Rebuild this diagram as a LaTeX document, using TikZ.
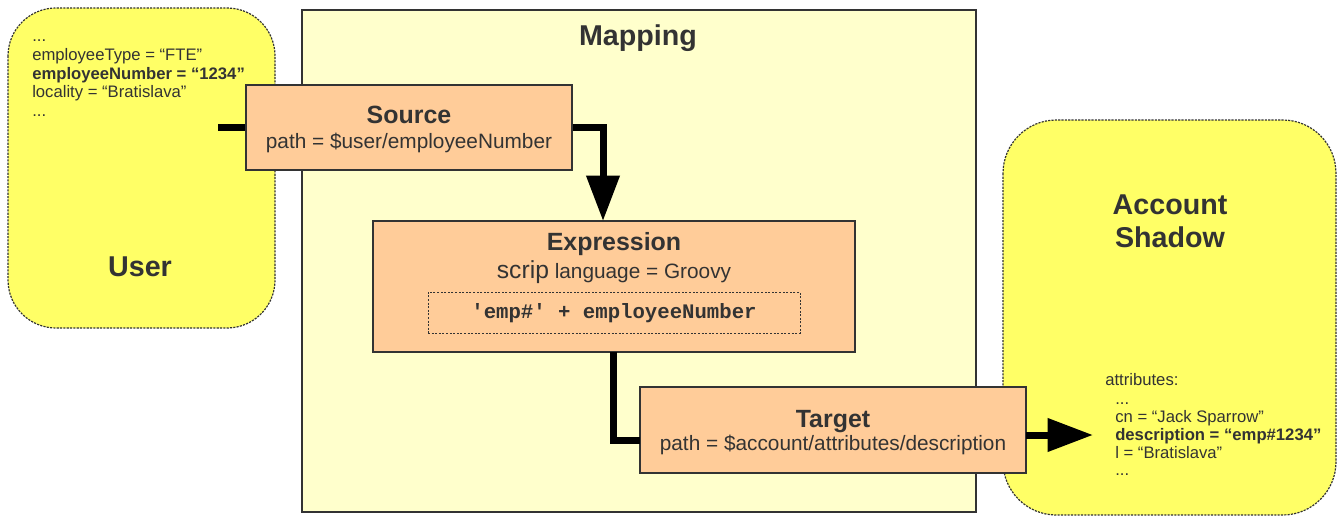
\documentclass[tikz,border=0pt]{standalone}
\usepackage{fontspec}
\setmainfont{Liberation Sans}
\setmonofont{Liberation Mono}
\usetikzlibrary{arrows.meta,calc}
\definecolor{useryel}{HTML}{FFFF66}
\definecolor{mapyel}{HTML}{FFFFCC}
\definecolor{peach}{HTML}{FFCC99}
\definecolor{ink}{HTML}{333333}
\begin{document}
\begin{tikzpicture}[x=0.75pt,y=-0.75pt,
  cloud/.style={draw=ink,fill=useryel,line width=0.9pt,dash pattern=on 1.6pt off 0.9pt},
  peachbox/.style={draw=ink,fill=peach,line width=1.1pt},
  ttl/.style={text=ink,font=\bfseries\fontsize{18.7pt}{22pt}\selectfont,anchor=base,inner sep=0pt},
  sub/.style={text=ink,font=\fontsize{15.6pt}{18pt}\selectfont,anchor=base,inner sep=0pt},
  small/.style={text=ink,font=\fontsize{12.5pt}{14pt}\selectfont,anchor=base west,inner sep=0pt},
  smallb/.style={small,font=\bfseries\fontsize{12.5pt}{14pt}\selectfont},
  big/.style={text=ink,font=\bfseries\fontsize{21.5pt}{25pt}\selectfont,anchor=base,inner sep=0pt},
  conn/.style={line width=5.25pt,draw=black,line join=miter},
  tip/.style={-{Triangle[length=34pt,width=24pt]}}
]
\useasboundingbox (0,0) rectangle (1341,517);
\fill[white] (0,0) rectangle (1341,517);

% user and account shadow
\draw[cloud,rounded corners=36pt] (8,8) rectangle (275,328);
\draw[cloud,rounded corners=40pt] (1003,120) rectangle (1336,515);

% mapping
\draw[ink,fill=mapyel,line width=0.8pt] (302,10) rectangle (976,512);
\node[big] (maptitle) at (638,46) {Mapping};

% user texts
\node[small]  (u1) at (32,42) {...};
\node[small]  (u2) at (32,60.7) {employeeType = “FTE”};
\node[smallb] (u3) at (32,79.4) {employeeNumber = “1234”};
\node[small]  (u4) at (32,98) {locality = “Bratislava”};
\node[small]  (u5) at (32,116.8) {...};
\node[big] (usertitle) at (140,276) {User};

% account texts
\node[big] (acc1) at (1170,214) {Account};
\node[big] (acc2) at (1170,247) {Shadow};
\node[small]  (a0) at (1105,385) {attributes:};
\node[small]  (a1) at (1115,404) {...};
\node[small]  (a2) at (1115,422) {cn = “Jack Sparrow”};
\node[smallb] (a3) at (1115,440) {description = “emp\#1234”};
\node[small]  (a4) at (1115,458) {l = “Bratislava”};
\node[small]  (a5) at (1115,475) {...};

% source
\node[peachbox,minimum width=326*0.75pt,minimum height=85*0.75pt,inner sep=0pt] (src) at (409,127.5) {};
\node[ttl] (srct) at (409,123) {Source};
\node[sub] (srcp) at (409,148) {path = \$user/employeeNumber};

% expression
\node[peachbox,minimum width=482*0.75pt,minimum height=131*0.75pt,inner sep=0pt] (expr) at (614,286.5) {};
\node[ttl] (exprt) at (614,250) {Expression};
\node[sub] (exprs) at (614,278) {{\fontsize{18.5pt}{20pt}\selectfont scrip} language = Groovy};
\node[draw=ink,line width=0.75pt,dash pattern=on 1.5pt off 1.2pt,minimum width=372*0.75pt,minimum height=41*0.75pt,inner sep=0pt] (code) at (614,312.5) {};
\node[text=ink,font=\ttfamily\bfseries\fontsize{15.5pt}{18pt}\selectfont,anchor=base,inner sep=0pt] (codet) at (614,318) {'emp\#' + employeeNumber};

% target
\node[peachbox,minimum width=386*0.75pt,minimum height=86*0.75pt,inner sep=0pt] (tgt) at (833,430) {};
\node[ttl] (tgtt) at (833,427) {Target};
\node[sub] (tgtp) at (833,450) {path = \$account/attributes/description};

% connectors
\coordinate (c1) at (218,127);
\draw[conn] (c1) -- (c1 -| src.west);
\coordinate (c2) at (603,221);
\draw[conn,tip] (src.east) -| (c2);
\coordinate (c3) at (613,352);
\coordinate (c4) at (640,440);
\draw[conn] (c3) |- (c4);
\coordinate (c5) at (1026,435);
\coordinate (c6) at (1093,435);
\draw[conn,tip] (c5) -- (c6);
\end{tikzpicture}
\end{document}
